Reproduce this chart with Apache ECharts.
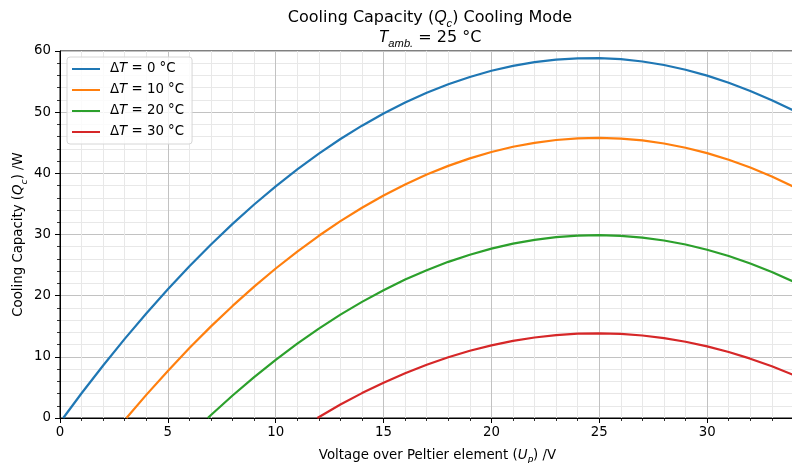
<!DOCTYPE html>
<html>
<head>
<meta charset="utf-8">
<script src="https://cdn.jsdelivr.net/npm/echarts@6/dist/echarts.min.js"></script>
<style>
html,body{margin:0;padding:0;background:#fff;}
#chart{width:792px;height:463px;}
</style>
</head>
<body>
<div id="chart"></div>
<script>
// ---- data ----
const seriesNames = ['ΔT = 0 °C', 'ΔT = 10 °C', 'ΔT = 20 °C', 'ΔT = 30 °C'];
const seriesColors = ['#1f77b4', '#ff7f0e', '#2ca02c', '#d62728'];

const U_dT0 = [0.15, 1, 2, 3, 4, 5, 6, 7, 8, 9, 10, 11, 12, 13, 14, 15, 16, 17, 18, 19, 20, 21, 22, 23, 24, 25, 26, 27, 28, 29, 30, 31, 32, 33, 34];
const Q_dT0 = [0, 4.05, 8.59, 12.94, 17.09, 21.05, 24.81, 28.37, 31.73, 34.90, 37.88, 40.65, 43.23, 45.61, 47.79, 49.78, 51.57, 53.17, 54.56, 55.76, 56.77, 57.57, 58.18, 58.60, 58.81, 58.83, 58.66, 58.28, 57.71, 56.94, 55.98, 54.82, 53.46, 51.95, 50.3];

const U_dT10 = [3.08, 4, 5, 6, 7, 8, 9, 10, 11, 12, 13, 14, 15, 16, 17, 18, 19, 20, 21, 22, 23, 24, 25, 26, 27, 28, 29, 30, 31, 32, 33, 34];
const Q_dT10 = [0, 3.78, 7.70, 11.44, 14.98, 18.32, 21.48, 24.44, 27.21, 29.79, 32.18, 34.37, 36.37, 38.18, 39.80, 41.22, 42.45, 43.49, 44.34, 44.99, 45.45, 45.72, 45.80, 45.68, 45.38, 44.88, 44.18, 43.30, 42.22, 40.95, 39.49, 37.83];

const U_dT20 = [6.85, 7, 8, 9, 10, 11, 12, 13, 14, 15, 16, 17, 18, 19, 20, 21, 22, 23, 24, 25, 26, 27, 28, 29, 30, 31, 32, 33, 34];
const Q_dT20 = [0, 0.49, 3.68, 6.69, 9.52, 12.16, 14.62, 16.90, 18.99, 20.90, 22.63, 24.17, 25.53, 26.70, 27.70, 28.50, 29.13, 29.57, 29.83, 29.90, 29.79, 29.50, 29.02, 28.36, 27.51, 26.48, 25.27, 23.88, 22.30];

const U_dT30 = [11.93, 12, 13, 14, 15, 16, 17, 18, 19, 20, 21, 22, 23, 24, 25, 26, 27, 28, 29, 30, 31, 32, 33, 34];
const Q_dT30 = [0, 0.15, 2.20, 4.07, 5.78, 7.33, 8.71, 9.93, 10.99, 11.87, 12.60, 13.16, 13.55, 13.78, 13.85, 13.75, 13.49, 13.06, 12.47, 11.71, 10.79, 9.70, 8.45, 7.03];

const xTicks = {min: 0, max: 35, interval: 5};
const yTicks = {min: 0, max: 60, interval: 10};

const titleLine1 = 'Cooling Capacity ({i|Q}{s|c}) Cooling Mode';
const titleLine2 = '{i|T}{s|amb.} = 25 °C';
const xAxisName = 'Voltage over Peltier element ({i|U}{s|P}) /V';
const yAxisName = 'Cooling Capacity ({i|Q}{s|c}) /W';

// ---- chart ----
const FONT = 'DejaVu Sans';
const TICK_FS = 13.33;

function richSet(fs, lh) {
  return {
    i: {fontFamily: FONT, fontStyle: 'italic', fontSize: fs, lineHeight: lh, color: '#000'},
    s: {fontFamily: FONT, fontStyle: 'italic', fontSize: fs * 0.7, lineHeight: lh / 2, verticalAlign: 'bottom', color: '#000'},
    n: {fontFamily: FONT, fontSize: fs, lineHeight: lh, color: '#000'}
  };
}

const allU = [U_dT0, U_dT10, U_dT20, U_dT30];
const allQ = [Q_dT0, Q_dT10, Q_dT20, Q_dT30];

const series = seriesNames.map((name, k) => ({
  name: name,
  type: 'line',
  data: allU[k].map((u, i) => [u, allQ[k][i]]),
  showSymbol: false,
  symbol: 'none',
  smooth: false,
  color: seriesColors[k],
  lineStyle: {width: 2.2, color: seriesColors[k]},
  z: 5
}));

function axisCommon(t) {
  return {
    type: 'value',
    min: t.min, max: t.max, interval: t.interval,
    axisLine: {show: true, onZero: false, lineStyle: {color: '#000', width: 1}},
    axisTick: {show: true, inside: false, length: 5, lineStyle: {color: '#000', width: 1}},
    minorTick: {show: true, splitNumber: 5, length: 3, lineStyle: {color: '#000', width: 0.8}},
    splitLine: {show: true, lineStyle: {color: '#c2c2c2', width: 1}},
    minorSplitLine: {show: true, lineStyle: {color: '#e8e8e8', width: 1}},
    axisLabel: {fontFamily: FONT, fontSize: TICK_FS, color: '#000'}
  };
}

const xAxis = axisCommon(xTicks);
xAxis.axisLabel.margin = 8;
xAxis.name = xAxisName;
xAxis.nameLocation = 'middle';
xAxis.nameGap = 28;
xAxis.nameMoveOverlap = false;
xAxis.nameTextStyle = {fontFamily: FONT, fontSize: TICK_FS, color: '#000', lineHeight: 20, rich: richSet(TICK_FS, 20)};

const yAxis = axisCommon(yTicks);
yAxis.axisLabel.margin = 9;
yAxis.name = yAxisName;
yAxis.nameLocation = 'middle';
yAxis.nameGap = 31;
yAxis.nameMoveOverlap = false;
yAxis.nameTextStyle = {fontFamily: FONT, fontSize: TICK_FS, color: '#000', lineHeight: 20, rich: richSet(TICK_FS, 20)};

const chart = echarts.init(document.getElementById('chart'), null, {renderer: 'canvas'});
chart.setOption({
  animation: false,
  backgroundColor: '#fff',
  textStyle: {fontFamily: FONT},
  grid: {left: 60, top: 51, width: 755, height: 367, containLabel: false, outerBoundsMode: 'none',
         show: true, borderColor: '#000', borderWidth: 1, backgroundColor: 'transparent'},
  xAxis: xAxis,
  yAxis: yAxis,
  legend: {
    data: seriesNames,
    orient: 'vertical',
    left: 67, top: 57,
    padding: [4, 8, 4, 5],
    itemWidth: 28, itemHeight: 2, itemGap: 5,
    icon: 'rect',
    selectedMode: false,
    backgroundColor: 'rgba(255,255,255,0.8)',
    borderColor: '#d6d6d6', borderWidth: 1, borderRadius: 3,
    formatter: function (name) { return '{n|Δ}{i|T}{n|' + name.slice(2) + '}'; },
    textStyle: {fontFamily: FONT, fontSize: TICK_FS, color: '#000', lineHeight: 16, padding: [0, 0, 0, 5], rich: richSet(TICK_FS, 16)}
  },
  graphic: [
    {type: 'text', x: 430, y: 18, z: 100,
     style: {text: titleLine1, align: 'center', verticalAlign: 'middle', fontFamily: FONT, fontSize: 16, lineHeight: 22, fill: '#000',
             rich: {i: {fontStyle: 'italic', fontSize: 16, lineHeight: 22}, s: {fontStyle: 'italic', fontSize: 11.2, lineHeight: 11, verticalAlign: 'bottom'}}}},
    {type: 'text', x: 430, y: 38, z: 100,
     style: {text: titleLine2, align: 'center', verticalAlign: 'middle', fontFamily: FONT, fontSize: 16, lineHeight: 22, fill: '#000',
             rich: {i: {fontStyle: 'italic', fontSize: 16, lineHeight: 22}, s: {fontStyle: 'italic', fontSize: 11.2, lineHeight: 11, verticalAlign: 'bottom'}}}}
  ],
  series: series
});
</script>
</body>
</html>
